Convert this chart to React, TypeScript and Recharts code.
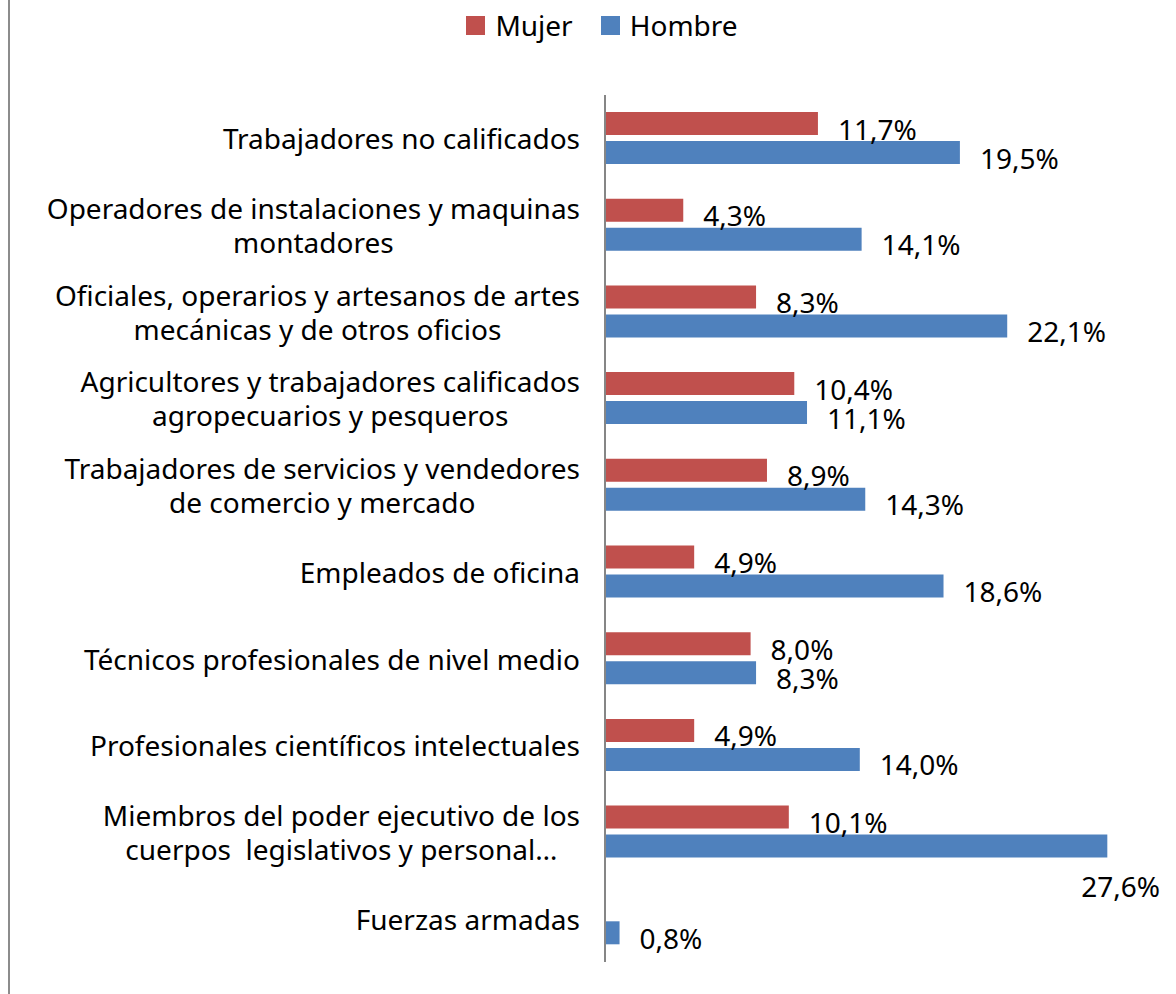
import React from "react";
import { BarChart, Bar, XAxis, YAxis, Legend, LabelList } from "recharts";

const categories = [
  "Trabajadores no calificados",
  "Operadores de instalaciones y maquinas\nmontadores",
  "Oficiales, operarios y artesanos de artes\nmecánicas y de otros oficios",
  "Agricultores y trabajadores calificados\nagropecuarios y pesqueros",
  "Trabajadores de servicios y vendedores\nde comercio y mercado",
  "Empleados de oficina",
  "Técnicos profesionales de nivel medio",
  "Profesionales científicos intelectuales",
  "Miembros del poder ejecutivo de los\ncuerpos  legislativos y personal…",
  "Fuerzas armadas",
];
const mujer = [11.7, 4.3, 8.3, 10.4, 8.9, 4.9, 8.0, 4.9, 10.1, null];
const hombre = [19.5, 14.1, 22.1, 11.1, 14.3, 18.6, 8.3, 14.0, 27.6, 0.8];

const data = categories.map((name, i) => ({ name, mujer: mujer[i], hombre: hombre[i] }));

const RED = "#C0504D";
const BLUE = "#4F81BD";
const FONT = "'Noto Sans', sans-serif";
const FS = 28;
const W = 1176;
const H = 994;

let ctx: CanvasRenderingContext2D | null = null;
const measure = (s: string) => {
  if (!ctx) ctx = document.createElement("canvas").getContext("2d");
  if (!ctx) return s.length * FS * 0.5;
  ctx.font = `${FS}px 'Noto Sans'`;
  return ctx.measureText(s).width;
};

const fmt = (v: number) => v.toFixed(1).replace(".", ",") + "%";

const CategoryTick = (props: any) => {
  const { x, y, payload } = props;
  const lines = String(payload.value).split("\n");
  const widest = Math.max(...lines.map(measure));
  const cx = x - 25 - widest / 2;
  const lh = 34;
  return (
    <text x={cx} y={y} textAnchor="middle" fontFamily={FONT} fontSize={FS} fill="#000" style={{ whiteSpace: "pre" }}>
      {lines.map((l, i) => (
        <tspan key={i} x={cx} y={y + (i - (lines.length - 1) / 2) * lh} dominantBaseline="central">
          {l}
        </tspan>
      ))}
    </text>
  );
};

const ValueLabel = (props: any) => {
  const { x, y, width, height, value } = props;
  if (value == null) return null;
  const txt = fmt(value);
  const tw = measure(txt);
  let lx = x + width + 20;
  let ly = y + height / 2 + 5;
  let anchor: "start" | "end" = "start";
  if (lx + tw > W - 10) {
    lx = W - 16;
    ly = y + height + 28;
    anchor = "end";
  }
  return (
    <text x={lx} y={ly} textAnchor={anchor} dominantBaseline="central" fontFamily={FONT} fontSize={FS} fill="#000">
      {txt}
    </text>
  );
};

const LegendContent = () => (
  <div style={{ display: "flex", justifyContent: "center", alignItems: "center", fontFamily: FONT, fontSize: FS, height: 50, paddingLeft: 28, boxSizing: "border-box" }}>
    <span style={{ width: 19, height: 19, background: RED, display: "inline-block", marginRight: 10 }} />
    <span style={{ marginRight: 28 }}>Mujer</span>
    <span style={{ width: 19, height: 19, background: BLUE, display: "inline-block", marginRight: 10 }} />
    <span>Hombre</span>
  </div>
);

export default function App() {
  return (
    <div style={{ position: "absolute", left: 0, top: 0, width: W, height: H, background: "#fff" }}>
      <div style={{ position: "absolute", left: 8, top: 0, width: 2, height: H, background: "#8c8c8c" }} />
      <BarChart
        width={W}
        height={H}
        data={data}
        layout="vertical"
        margin={{ top: 45, right: 25, bottom: 32, left: 0 }}
        barSize={23}
        barGap={6}
      >
        <Legend verticalAlign="top" align="center" content={<LegendContent />} wrapperStyle={{ top: 0, left: 0, width: W }} />
        <XAxis type="number" domain={[0, 30]} hide />
        <YAxis
          type="category"
          dataKey="name"
          width={605}
          tickLine={false}
          tickSize={0}
          tickMargin={0}
          axisLine={{ stroke: "#868686", strokeWidth: 2 }}
          tick={<CategoryTick />}
          interval={0}
        />
        <Bar dataKey="mujer" name="Mujer" fill={RED} isAnimationActive={false}>
          <LabelList dataKey="mujer" content={<ValueLabel />} />
        </Bar>
        <Bar dataKey="hombre" name="Hombre" fill={BLUE} isAnimationActive={false}>
          <LabelList dataKey="hombre" content={<ValueLabel />} />
        </Bar>
      </BarChart>
    </div>
  );
}
